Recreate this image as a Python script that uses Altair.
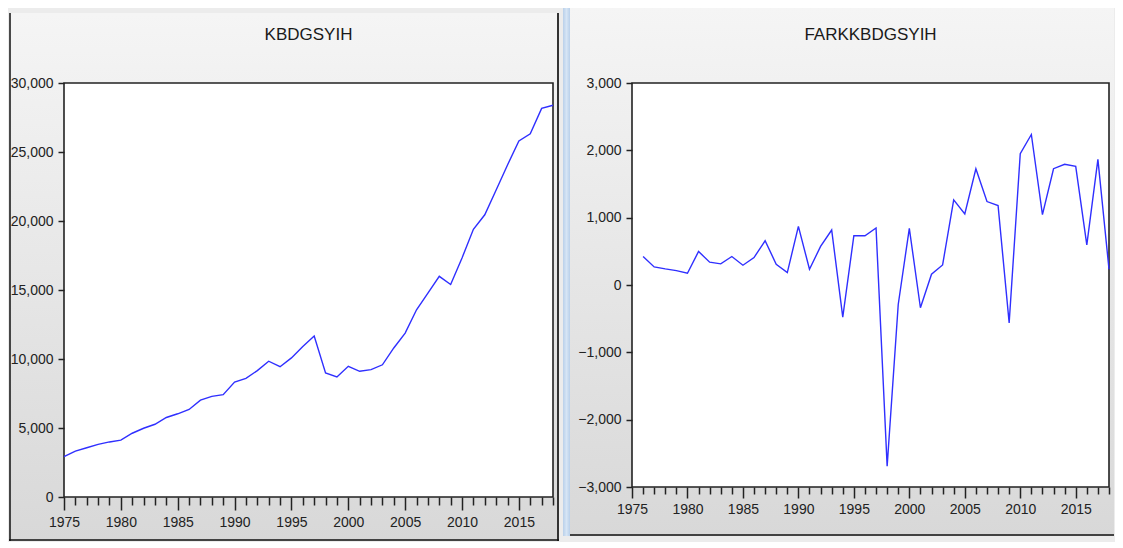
import altair as alt
import pandas as pd

# ---------------- data ----------------
years_level = list(range(1975, 2019))
kbdgsyih = [2920, 3330, 3570, 3815, 3990, 4120, 4620, 4980, 5270, 5760,
            6030, 6340, 7020, 7290, 7420, 8330, 8600, 9160, 9840, 9440,
            10080, 10900, 11660, 8990, 8700, 9470, 9110, 9230, 9580, 10800,
            11880, 13570, 14780, 15990, 15400, 17320, 19400, 20450, 22250, 24060,
            25800, 26320, 28160, 28390]

years_diff = list(range(1976, 2019))
farkkbdgsyih = [423, 269, 239, 214, 174, 498, 339, 314, 423, 294,
                408, 657, 309, 184, 871, 234, 573, 817, -478, 732,
                732, 847, -2690, -289, 842, -338, 160, 298, 1264, 1055,
                1727, 1239, 1180, -563, 1950, 2235, 1045, 1727, 1792, 1762,
                597, 1866, 234]

x_ticks = list(range(1975, 2019))
left_y_ticks = [0, 5000, 10000, 15000, 20000, 25000, 30000]
right_y_ticks = [-3000, -2000, -1000, 0, 1000, 2000, 3000]
titles = ["KBDGSYIH", "FARKKBDGSYIH"]

df_level = pd.DataFrame({"year": years_level, "value": kbdgsyih})
df_diff = pd.DataFrame({"year": years_diff, "value": farkkbdgsyih})

FONT = "Liberation Sans"
LINE_COLOR = "#2f2fff"
DARK = "#222222"

grad = alt.Gradient(
    gradient="linear", x1=0, y1=0, x2=0, y2=1,
    stops=[alt.GradientStop(color="#f5f5f5", offset=0),
           alt.GradientStop(color="#d8d8d8", offset=1)],
)
blue_grad = alt.Gradient(
    gradient="linear", x1=0, y1=0, x2=1, y2=0,
    stops=[alt.GradientStop(color="#b9d0ea", offset=0),
           alt.GradientStop(color="#d6e5f5", offset=0.5),
           alt.GradientStop(color="#b9d0ea", offset=1)],
)

one = alt.Data(values=[{}])


def x_axis(minor, major, pad):
    return alt.Axis(
        values=x_ticks,
        labelExpr="datum.value % 5 === 0 ? format(datum.value, 'd') : ''",
        tickSize={"condition": {"test": "datum.value % 5 === 0", "value": major},
                  "value": minor},
        labelPadding=pad, labelOverlap=False, labelFlush=False, labelBound=False,
        labelFont=FONT, labelFontSize=14, labelColor=DARK,
        tickColor=DARK, tickWidth=1.5, domain=False, grid=False, zindex=1,
        title=None,
    )


def y_axis(values):
    return alt.Axis(
        values=values, format=",d", tickSize=6, labelPadding=5,
        labelFont=FONT, labelFontSize=14, labelColor=DARK,
        tickColor=DARK, tickWidth=1.5, domain=False, grid=False, zindex=1,
        title=None,
    )


def panel(df, W, H, ydom, yvals, title, minor, major, pad,
          gx1, gx2, gy1, gy2, extra):
    bg = alt.Chart(one).mark_rect(fill=grad, clip=False).encode(
        x=alt.value(gx1), x2=alt.value(gx2), y=alt.value(gy1), y2=alt.value(gy2))
    plot_box = alt.Chart(one).mark_rect(fill="white", stroke=DARK, strokeWidth=1.6).encode(
        x=alt.value(0), x2=alt.value(W), y=alt.value(0), y2=alt.value(H))
    bottom = alt.Chart(one).mark_rule(color="#111111", strokeWidth=1.5, clip=False).encode(
        x=alt.value(gx1), x2=alt.value(gx2), y=alt.value(gy2 - 1))
    ttl = alt.Chart(one).mark_text(
        font=FONT, fontSize=17, color="#1a1a1a", align="center",
        baseline="alphabetic", clip=False,
    ).encode(x=alt.value(W / 2), y=alt.value(-43), text=alt.value(title))
    line = alt.Chart(df).mark_line(color=LINE_COLOR, strokeWidth=1.4).encode(
        x=alt.X("year:Q", scale=alt.Scale(domain=[1975, 2018], nice=False, zero=False),
                axis=x_axis(minor, major, pad)),
        y=alt.Y("value:Q", scale=alt.Scale(domain=ydom, nice=False, zero=False),
                axis=y_axis(yvals)),
    )
    layers = [bg] + extra + [plot_box, bottom, ttl, line]
    return alt.layer(*layers).properties(width=W, height=H)


# left panel: plot origin at page (63, 78)
W1, H1 = 489, 414
left_extra = [
    alt.Chart(one).mark_rule(color="#111111", strokeWidth=1.5, clip=False).encode(
        x=alt.value(-54), y=alt.value(-70), y2=alt.value(458)),
    alt.Chart(one).mark_rule(color="#333333", strokeWidth=2, clip=False).encode(
        x=alt.value(494), y=alt.value(-70), y2=alt.value(458)),
]
left = panel(df_level, W1, H1, [0, 30000], left_y_ticks, titles[0], 8, 13, 5,
             -55, 495, -70, 458, left_extra)

# right panel: plot origin at page (631, 83)
W2, H2 = 477, 404
right_extra = [
    alt.Chart(one).mark_rect(fill=blue_grad, clip=False).encode(
        x=alt.value(-69), x2=alt.value(-62), y=alt.value(-75), y2=alt.value(453)),
]
right = panel(df_diff, W2, H2, [-3000, 3000], right_y_ticks, titles[1], 7, 11, 4,
              -62, 482, -75, 453, right_extra)

chart = alt.hconcat(left, right, spacing=3).properties(
    padding={"left": 0, "top": 0, "right": 0, "bottom": 0},
    background="#ececec",
).configure_view(stroke=None)

chart.save("out.html", embed_options={"renderer": "svg", "actions": False})
